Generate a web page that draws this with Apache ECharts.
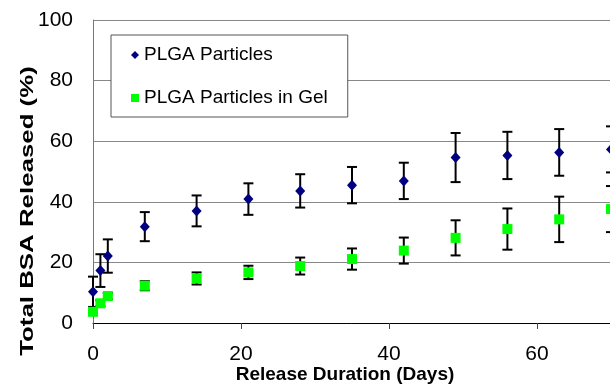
<!DOCTYPE html>
<html>
<head>
<meta charset="utf-8">
<script src="https://cdn.jsdelivr.net/npm/echarts@6/dist/echarts.min.js"></script>
<style>
html,body{margin:0;padding:0;background:#fff;}
#c{width:610px;height:385px;}
</style>
</head>
<body>
<div id="c"></div>
<script>
var days = [0, 1, 2, 7, 14, 21, 28, 35, 42, 49, 56, 63, 70];
var plga = [10.3, 17.3, 22.1, 31.8, 37.0, 40.9, 43.6, 45.5, 46.9, 54.6, 55.3, 56.3, 57.3];
var plgaErr = [5.0, 5.4, 5.5, 4.8, 5.1, 5.2, 5.5, 6.0, 6.0, 8.1, 7.8, 7.7, 7.6];
var gel = [3.7, 6.5, 8.9, 12.3, 14.7, 16.7, 18.8, 21.1, 23.9, 28.1, 31.0, 34.2, 37.6];
var gelErr = [1.0, 1.0, 1.0, 1.5, 2.0, 2.2, 2.8, 3.5, 4.3, 5.8, 6.8, 7.5, 7.6];
var seriesNames = ['PLGA Particles', 'PLGA Particles in Gel'];
var xTitle = 'Release Duration (Days)';
var yTitle = 'Total BSA Released (%)';

var FONT = '"Liberation Sans", Arial, sans-serif';

function pts(vals) { return days.map(function (d, i) { return [d, vals[i]]; }); }
function errs(vals, e) { return days.map(function (d, i) { return [d, vals[i], e[i]]; }); }

function errRender(params, api) {
  var x = api.value(0), v = api.value(1), e = api.value(2);
  var t = api.coord([x, v + e]), b = api.coord([x, v - e]);
  var hw = 5;
  var st = { stroke: '#000', lineWidth: 2 };
  return {
    type: 'group',
    children: [
      { type: 'line', shape: { x1: t[0], y1: t[1], x2: b[0], y2: b[1] }, style: st },
      { type: 'line', shape: { x1: t[0] - hw, y1: t[1], x2: t[0] + hw, y2: t[1] }, style: st },
      { type: 'line', shape: { x1: b[0] - hw, y1: b[1], x2: b[0] + hw, y2: b[1] }, style: st }
    ]
  };
}

var chart = echarts.init(document.getElementById('c'), null, { renderer: 'canvas' });
chart.setOption({
  animation: false,
  backgroundColor: '#fff',
  textStyle: { fontFamily: FONT },
  grid: { left: 93, top: 20, width: 592, height: 303, containLabel: false, outerBoundsMode: 'none' },
  legend: {
    data: seriesNames,
    orient: 'vertical',
    left: 111,
    top: 35,
    padding: [10, 20, 9, 20],
    itemGap: 23,
    itemWidth: 8,
    itemHeight: 8,
    borderColor: '#555',
    borderWidth: 1,
    backgroundColor: '#fff',
    textStyle: { fontFamily: FONT, fontSize: 19, color: '#000', lineHeight: 20 }
  },
  xAxis: {
    type: 'value',
    min: 0, max: 80, interval: 20,
    axisLine: { show: true, lineStyle: { color: '#000', width: 1 } },
    axisTick: { show: true, length: 6, lineStyle: { color: '#444' } },
    axisLabel: { fontSize: 21, color: '#000', margin: 21, fontFamily: FONT },
    splitLine: { show: false }
  },
  yAxis: {
    type: 'value',
    min: 0, max: 100, interval: 20,
    axisLine: { show: true, lineStyle: { color: '#777', width: 1 } },
    axisTick: { show: false },
    axisLabel: { fontSize: 21, color: '#000', margin: 20, fontFamily: FONT },
    splitLine: { show: true, lineStyle: { color: '#888', width: 1 } }
  },
  graphic: [
    {
      type: 'text', x: 345, y: 375, z: 10,
      style: { text: xTitle, font: 'bold 19px ' + FONT, fill: '#000', align: 'center', verticalAlign: 'middle' }
    },
    {
      type: 'text', x: 28, y: 211, rotation: Math.PI / 2, scaleX: 1.36, z: 10,
      style: { text: yTitle, font: 'bold 19px ' + FONT, fill: '#000', align: 'center', verticalAlign: 'middle' }
    }
  ],
  series: [
    {
      type: 'custom', name: 'errPLGA', renderItem: errRender, data: errs(plga, plgaErr),
      encode: { x: 0, y: 1 }, clip: false, z: 1, silent: true
    },
    {
      type: 'custom', name: 'errGel', renderItem: errRender, data: errs(gel, gelErr),
      encode: { x: 0, y: 1 }, clip: false, z: 1, silent: true
    },
    {
      type: 'scatter', name: seriesNames[0], data: pts(plga), symbol: 'diamond', symbolSize: [10, 11],
      itemStyle: { color: '#000080', opacity: 1 }, clip: false, z: 3
    },
    {
      type: 'scatter', name: seriesNames[1], data: pts(gel), symbol: 'rect', symbolSize: 10,
      itemStyle: { color: '#00ff00', opacity: 1 }, clip: false, z: 2
    }
  ]
});
</script>
</body>
</html>
